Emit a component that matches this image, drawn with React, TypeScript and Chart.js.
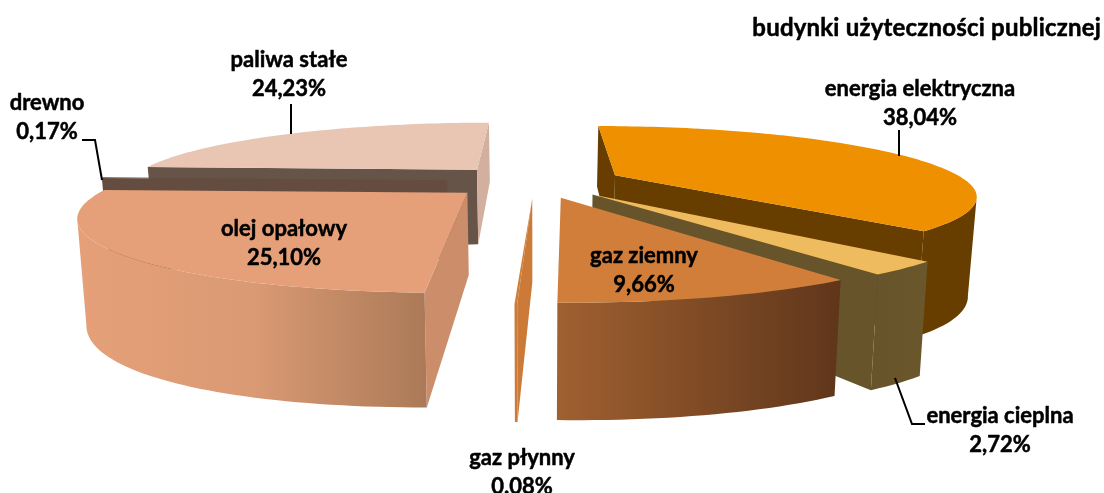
import React, { useEffect, useRef } from "react";
import { Chart, registerables } from "chart.js";

Chart.register(...registerables);

const categories = ["energia elektryczna", "energia cieplna", "gaz ziemny", "gaz płynny", "olej opałowy", "drewno", "paliwa stałe"];
const shares = [38.04, 2.72, 9.66, 0.08, 25.1, 0.17, 24.23];
const valueLabels = ["38,04%", "2,72%", "9,66%", "0.08%", "25,10%", "0,17%", "24,23%"];
const topColors = ["#EE9000", "#EEBB5E", "#D07E3A", "#D07E3A", "#E5A079", "#654C40", "#E9C6B4"];
const title = "budynki użyteczności publicznej";

// style of the side walls
const startWallColors = ["#673D00", "#67542A", "#5F361B", "#CB7A38", "#CC8E6A", "#654C40", "#675449"];
const endWallColors = ["#673D00", "#67542A", "#5F361B", "#CB7A38", "#CC8E6A", "#654C40", "#D2AF9E"];
const outerWallStops: string[][] = [
  ["#673D00", "#673D00"],
  ["#67542A", "#6B572C"],
  ["#A06030", "#5F361B"],
  ["#CB7A38", "#CB7A38"],
  ["#E5A079", "#DA9A74", "#AC7A58"],
  ["#654C40", "#654C40"],
  ["#D2AF9E", "#D2AF9E"],
];

// label layout: [centre x, first line y], leader line points
const labelAnchors = [
  [920, 89], [1000, 416], [644, 256], [522, 458], [284, 229], [47, 103], [289, 60],
];
const leaders: number[][][] = [
  [[899, 130], [899, 156]],
  [[895, 378], [912, 424], [925, 424]],
  [], [], [],
  [[82, 140], [95, 140], [102, 180]],
  [[291, 104], [291, 134]],
];

// camera of the 3D view
const CX = 535, S = 351, VH = -60, K = 241, D = 3.7, DEPTH = 78, WIDEN = 0.14, TAPER = 0.02;

function project(x: number, y: number, z: number): [number, number] {
  const f = D / (D - y);
  const u0 = CX + S * x * f;
  const v = VH + K * f + z * DEPTH * f * (1 + WIDEN * x * x);
  return [CX + (u0 - CX) * (1 - TAPER * z), v];
}

function addPoly(ctx: CanvasRenderingContext2D, pts: [number, number][]) {
  pts.forEach((p, i) => (i ? ctx.lineTo(p[0], p[1]) : ctx.moveTo(p[0], p[1])));
  ctx.closePath();
}

function fillPoly(ctx: CanvasRenderingContext2D, pts: [number, number][]) {
  ctx.beginPath();
  addPoly(ctx, pts);
  ctx.fill();
}

// a wall is seen when its outward normal points to the camera
const facesCamera = (x: number, y: number, nx: number, ny: number) => -x * nx + (D - y) * ny > 0;

const pie3d = {
  id: "pie3d",
  beforeDatasetsDraw(chart: any) {
    const ctx: CanvasRenderingContext2D = chart.ctx;
    const arcs = chart.getDatasetMeta(0).data;
    const slices = arcs.map((arc: any, i: number) => {
      const a0 = arc.startAngle + Math.PI / 2;
      const a1 = arc.endAngle + Math.PI / 2;
      const mid = (a0 + a1) / 2;
      const e = arc.options.offset / arc.outerRadius;
      return { i, a0, a1, ax: e * Math.sin(mid), ay: -e * Math.cos(mid), color: arc.options.backgroundColor };
    });
    slices.sort((p: any, q: any) => p.ay - q.ay);
    for (const s of slices) {
      const n = Math.max(2, Math.ceil((s.a1 - s.a0) * 40));
      const top: [number, number][] = [];
      const bottom: [number, number][] = [];
      const seen: boolean[] = [];
      for (let k = 0; k <= n; k++) {
        const t = s.a0 + ((s.a1 - s.a0) * k) / n;
        const x = s.ax + Math.sin(t);
        const y = s.ay - Math.cos(t);
        top.push(project(x, y, 0));
        bottom.push(project(x, y, 1));
        seen.push(facesCamera(x, y, Math.sin(t), -Math.cos(t)));
      }
      const apexTop = project(s.ax, s.ay, 0);
      const apexBottom = project(s.ax, s.ay, 1);
      // radial walls
      if (facesCamera(s.ax, s.ay, -Math.cos(s.a0), -Math.sin(s.a0))) {
        ctx.fillStyle = startWallColors[s.i];
        fillPoly(ctx, [apexTop, top[0], bottom[0], apexBottom]);
      }
      if (facesCamera(s.ax, s.ay, Math.cos(s.a1), Math.sin(s.a1))) {
        ctx.fillStyle = endWallColors[s.i];
        fillPoly(ctx, [apexTop, top[n], bottom[n], apexBottom]);
      }
      // outer wall: the visible quads, joined in one path
      const xs = top.map((p) => p[0]);
      const g = ctx.createLinearGradient(Math.min(...xs), 0, Math.max(...xs), 0);
      const stops = outerWallStops[s.i];
      stops.forEach((c, k) => g.addColorStop(k / (stops.length - 1), c));
      ctx.fillStyle = g;
      ctx.beginPath();
      for (let k = 0; k < n; k++) {
        if (seen[k] || seen[k + 1]) addPoly(ctx, [top[k], top[k + 1], bottom[k + 1], bottom[k]]);
      }
      ctx.fill();
      // top face
      ctx.fillStyle = s.color;
      fillPoly(ctx, [apexTop, ...top]);
    }
    return false;
  },
  afterDraw(chart: any) {
    const ctx: CanvasRenderingContext2D = chart.ctx;
    ctx.save();
    ctx.strokeStyle = "#000";
    ctx.lineWidth = 2;
    leaders.forEach((pts) => {
      if (!pts.length) return;
      ctx.beginPath();
      pts.forEach((p, i) => (i ? ctx.lineTo(p[0], p[1]) : ctx.moveTo(p[0], p[1])));
      ctx.stroke();
    });
    ctx.fillStyle = "#000";
    ctx.lineWidth = 0.5;
    ctx.lineJoin = "round";
    ctx.font = "bold 22px Lato";
    ctx.textBaseline = "middle";
    ctx.textAlign = "center";
    const put = (t: string, x: number, y: number) => {
      ctx.strokeText(t, x, y);
      ctx.fillText(t, x, y);
    };
    categories.forEach((c, i) => {
      const [x, y] = labelAnchors[i];
      put(c, x, y);
      put(valueLabels[i], x, y + 29);
    });
    ctx.textAlign = "right";
    ctx.font = "bold 24px Lato";
    (ctx as any).letterSpacing = "0.2px";
    put(title, 1101, 28);
    ctx.restore();
  },
};

export default function App() {
  const ref = useRef<HTMLCanvasElement>(null);
  useEffect(() => {
    const chart = new Chart(ref.current!, {
      type: "pie",
      data: {
        labels: categories,
        datasets: [{ data: shares, backgroundColor: topColors, offset: 55, borderWidth: 0 }],
      },
      options: {
        responsive: false,
        animation: false,
        layout: { padding: 0 },
        plugins: { legend: { display: false }, tooltip: { enabled: false } },
      },
      plugins: [pie3d],
    } as any);
    return () => chart.destroy();
  }, []);
  return (
    <div style={{ position: "fixed", left: 0, top: 0, width: 1104, height: 493, background: "#fff" }}>
      <canvas ref={ref} width={1104} height={493} style={{ display: "block" }} />
    </div>
  );
}
